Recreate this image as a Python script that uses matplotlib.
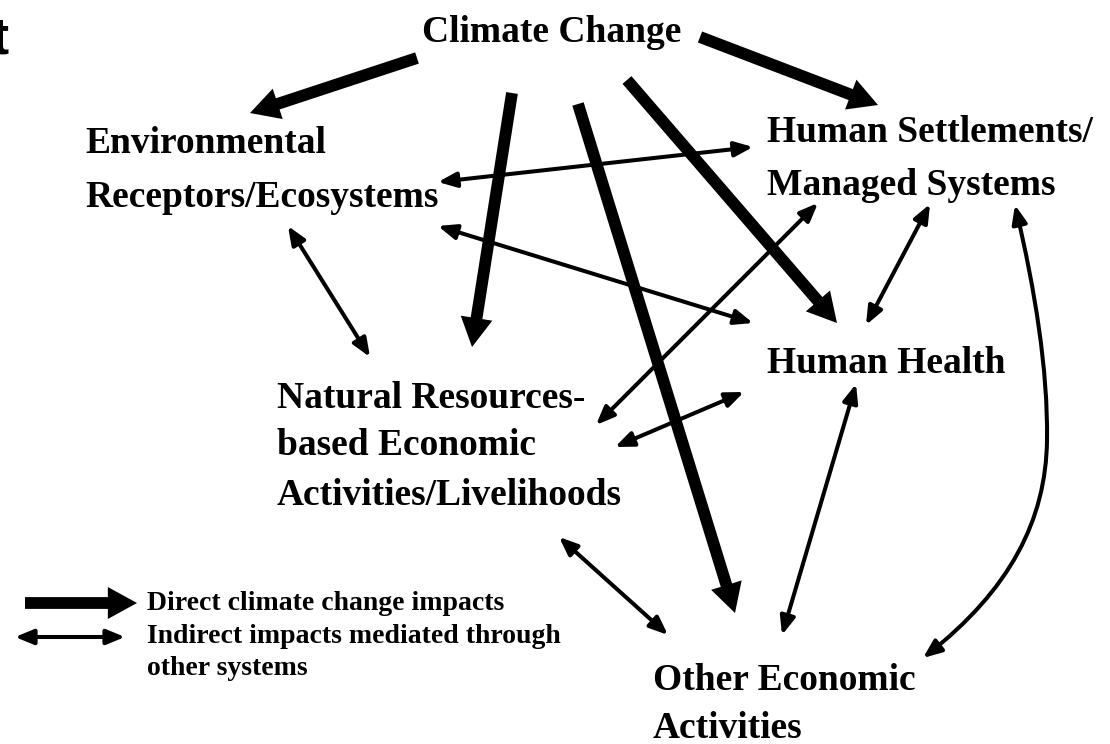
import matplotlib.pyplot as plt
from matplotlib.patches import FancyArrowPatch
from matplotlib.path import Path

# node labels (one entry per text line), left x and baseline y in pixels
label_lines = ['Climate Change',
               'Environmental', 'Receptors/Ecosystems',
               'Human Settlements/', 'Managed Systems',
               'Human Health',
               'Natural Resources-', 'based Economic', 'Activities/Livelihoods',
               'Other Economic', 'Activities']
label_x = [422, 85, 85, 767, 767, 767, 277, 277, 277, 653, 653]
label_y = [42, 153, 207, 142, 195, 373, 408, 455, 505, 690, 738]

legend_lines = ['Direct climate change impacts',
                'Indirect impacts mediated through',
                'other systems']
legend_x = 147
legend_y = [610, 643, 675]

# direct impacts: Climate Change -> systems (tail, tip)
direct_tail = [(417, 58), (700, 37), (512, 93), (578, 104), (627, 80)]
direct_tip = [(250, 113), (878, 105), (472, 347), (735, 613), (837, 323)]

# indirect (two-way) links
indirect_a = [(438, 182), (438, 226), (288, 226), (596, 425),
              (615, 447), (930, 204), (856, 384), (559, 537)]
indirect_b = [(753, 147), (753, 323), (370, 357), (818, 203),
              (744, 392), (866, 325), (782, 635), (668, 635)]

# curved link Human Settlements <-> Other Economic Activities
curve_pts = [(1015, 205), (1035, 290), (1048, 370), (1047, 440),
             (1046, 520), (1010, 590), (923, 658)]

fig = plt.figure(figsize=(11.1, 7.44), dpi=100)
ax = fig.add_axes([0, 0, 1, 1])
ax.set_xlim(0, 1110)
ax.set_ylim(744, 0)
ax.axis('off')

thick = dict(arrowstyle='simple,head_length=21,head_width=23,tail_width=8.5',
             mutation_scale=1, color='black', lw=0, shrinkA=0, shrinkB=0)
thin = dict(arrowstyle='<|-|>,head_length=11,head_width=4.5',
            mutation_scale=1, color='black', lw=2.9, shrinkA=0, shrinkB=0)

for a, b in zip(direct_tail, direct_tip):
    ax.add_patch(FancyArrowPatch(a, b, **thick))

for a, b in zip(indirect_a, indirect_b):
    ax.add_patch(FancyArrowPatch(a, b, **thin))

codes = [Path.MOVETO] + [Path.CURVE4] * 6
ax.add_patch(FancyArrowPatch(path=Path(curve_pts, codes), **thin))

# node labels
for txt, x, y in zip(label_lines, label_x, label_y):
    ax.text(x, y, txt, family='Liberation Serif', weight='bold', fontsize=27,
            ha='left', va='baseline')

# legend
ax.add_patch(FancyArrowPatch((25, 603), (137, 603), **thick))
ax.add_patch(FancyArrowPatch((15, 637), (125, 637), **thin))
for txt, y in zip(legend_lines, legend_y):
    ax.text(legend_x, y, txt, family='Liberation Serif', weight='bold',
            fontsize=20, ha='left', va='baseline')

# cut-off title letter at the top-left edge
ax.text(-9, 53, 't', family='Liberation Sans', weight='bold', fontsize=37,
        ha='left', va='baseline')

fig.savefig('out.png', dpi=100)
